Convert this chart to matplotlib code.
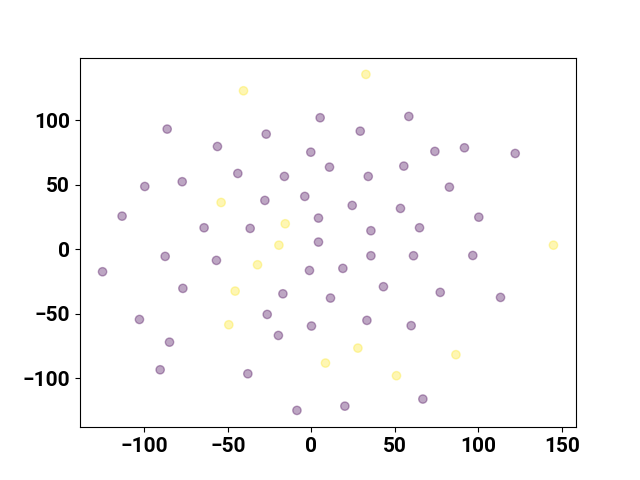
import matplotlib
matplotlib.use("Agg")
import matplotlib.pyplot as plt
import numpy as np

purple_x = [5.2, -86.4, -27.1, -56.3, -0.4, 10.8, -44.1, -16.2, -99.8, -77.4,
            -4.0, -27.9, -113.4, 4.2, -64.3, -36.7, 4.2,
            58.3, 29.2, 73.9, 91.6, 122.0, 55.3, 34.0, 82.6, 24.4, 53.3, 100.2,
            35.6, 64.7,
            -125.1, -87.6, -56.9, -1.2, -77.0, -17.1, 11.4, -103.0, -26.5, -19.8,
            0.0, -85.0, -90.6, -38.1, -8.7,
            35.6, 61.1, 96.6, 18.8, 43.1, 77.1, 113.2, 33.2, 59.7, 66.7, 20.0]
purple_y = [102.1, 93.3, 89.4, 79.8, 75.4, 63.8, 58.9, 56.6, 48.8, 52.5,
            41.1, 38.0, 25.8, 24.3, 16.8, 16.3, 5.7,
            103.1, 91.7, 76.0, 78.8, 74.4, 64.6, 56.6, 48.3, 34.1, 31.8, 25.0,
            14.5, 16.8,
            -17.3, -5.4, -8.5, -16.3, -30.2, -34.4, -37.7, -54.3, -50.4, -66.7,
            -59.4, -71.9, -93.3, -96.4, -124.8,
            -4.9, -4.9, -4.7, -14.7, -28.9, -33.3, -37.2, -55.0, -59.1, -116.0, -121.5]

yellow_x = [-40.7, -54.1, -15.7, -19.5, 32.6, 144.9, -32.3, -45.7, -49.5, 8.4, 27.8, 86.5, 50.9]
yellow_y = [123.0, 36.4, 19.9, 3.3, 135.7, 3.3, -11.9, -32.3, -58.4, -88.1, -76.5, -81.6, -97.9]

x = np.array(purple_x + yellow_x)
y = np.array(purple_y + yellow_y)
labels = np.array([0] * len(purple_x) + [1] * len(yellow_x))

plt.rcParams['font.family'] = ['Roboto', 'DejaVu Sans']
plt.rcParams['font.weight'] = 'bold'
fig, ax = plt.subplots(figsize=(6.4, 4.8), dpi=100)
ax.scatter(x, y, c=labels, cmap='viridis', alpha=0.35)
ax.tick_params(labelsize=15)
fig.savefig("out.png")
